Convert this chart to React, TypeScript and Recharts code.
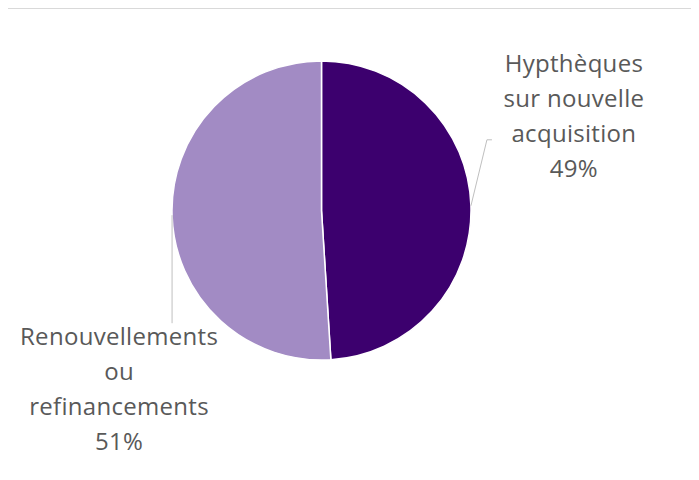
import React from "react";
import { PieChart, Pie, Cell } from "recharts";

const categories = ["Hypthèques sur nouvelle acquisition", "Renouvellements ou refinancements"];
const values = [49, 51];
const labelLines = [
  ["Hypthèques", "sur nouvelle", "acquisition", "49%"],
  ["Renouvellements", "ou", "refinancements", "51%"],
];
const colors = ["#3C006E", "#A28BC4"];

const data = categories.map((name, i) => ({ name, value: values[i] }));

const RAD = Math.PI / 180;
const FONT = "'Open Sans', Lato, sans-serif";

const renderLabel = (props: any) => {
  const { cx, cy, outerRadius, midAngle, index } = props;
  const ex = cx + outerRadius * Math.cos(-midAngle * RAD);
  const ey = cy + outerRadius * Math.sin(-midAngle * RAD);
  const lines = labelLines[index];
  let path: string;
  let tx: number;
  let ty: number;
  if (index === 0) {
    const bx = ex + 16;
    const by = ey - 66;
    path = `M${ex},${ey} L${bx},${by} L${bx + 5},${by}`;
    tx = ex + 103;
    ty = ey - 134;
  } else {
    const by = ey + 108;
    path = `M${ex},${ey} L${ex},${by}`;
    tx = ex - 53;
    ty = ey + 130;
  }
  return (
    <g>
      <path d={path} stroke="#BFBFBF" strokeWidth={1} fill="none" />
      <text
        x={tx}
        y={ty}
        textAnchor="middle"
        fill="#595959"
        fontSize={24}
        letterSpacing={0.3}
        fontFamily={FONT}
      >
        {lines.map((l, i) => (
          <tspan key={i} x={tx} dy={i === 0 ? 0 : 35}>
            {l}
          </tspan>
        ))}
      </text>
    </g>
  );
};

export default function App() {
  return (
    <div
      style={{
        marginLeft: -1,
        width: 686,
        height: 472,
        borderTop: "1px solid #D9D9D9",
        borderLeft: "1px solid #D9D9D9",
        borderRight: "1px solid #EBEBEB",
        background: "#fff",
      }}
    >
      <PieChart width={686} height={472} margin={{ top: 0, right: 0, bottom: 0, left: 0 }}>
        <Pie
          data={data}
          dataKey="value"
          nameKey="name"
          cx={313.5}
          cy={201.5}
          outerRadius={149.5}
          startAngle={90}
          endAngle={-270}
          stroke="#FFFFFF"
          strokeWidth={1.5}
          label={renderLabel}
          labelLine={false}
          isAnimationActive={false}
        >
          {data.map((d, i) => (
            <Cell key={d.name} fill={colors[i]} />
          ))}
        </Pie>
      </PieChart>
    </div>
  );
}
